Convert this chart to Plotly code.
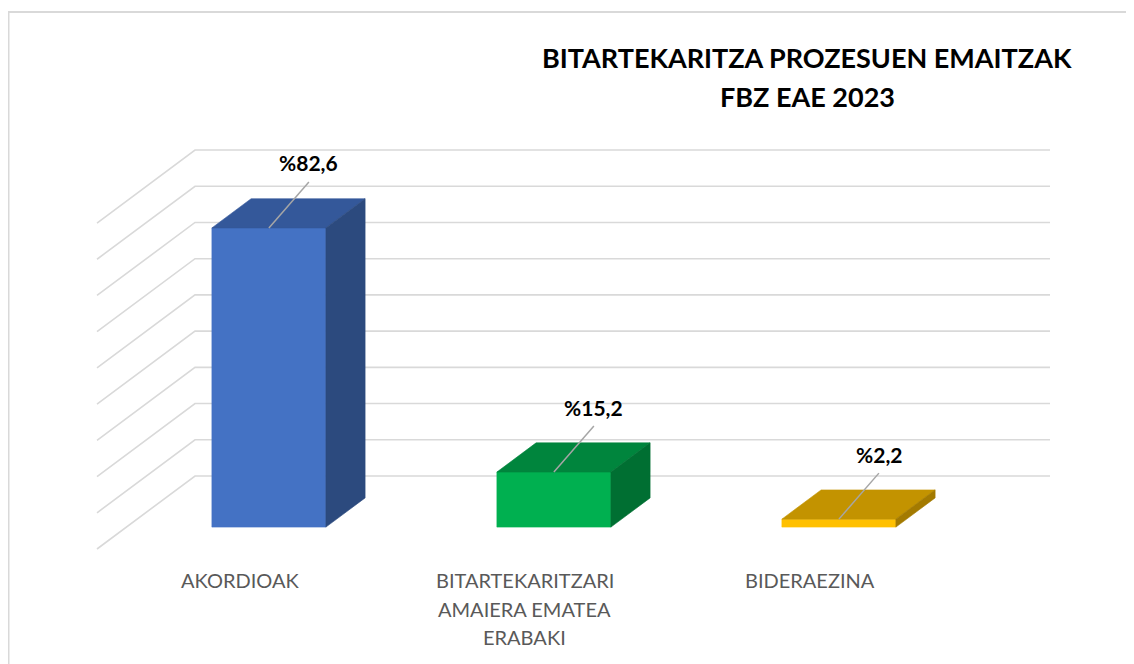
import plotly.graph_objects as go

# ---------------- data ----------------
categories = ["AKORDIOAK", "BITARTEKARITZARI<br>AMAIERA EMATEA<br>ERABAKI", "BIDERAEZINA"]
values = [82.6, 15.2, 2.2]
value_labels = ["%82,6", "%15,2", "%2,2"]
gridline_values = [0, 10, 20, 30, 40, 50, 60, 70, 80, 90]
title_lines = ["BITARTEKARITZA PROZESUEN EMAITZAK", "FBZ EAE 2023"]

front_colors = ["#4472C4", "#00B050", "#FFC000"]
top_colors = ["#34589A", "#00853D", "#C39300"]
side_colors = ["#2C4A7E", "#006F32", "#A37A00"]

# ---------------- layout / 3D projection ----------------
PAGE_W, PAGE_H = 1134, 664
OFF = 8                      # default body margin of the html page
W, H = PAGE_W - OFF, PAGE_H - OFF
PX_PER_UNIT = 3.622          # pixels per value unit
BACK_ZERO_PX = 476           # page y of value 0 on back wall
DX = 98.0                    # depth offset in x (x units == page px)
DY = 73.0 / PX_PER_UNIT      # depth offset in value units
FLOOR_LEFT, FLOOR_RIGHT = 97.0, 952.0
slot = (FLOOR_RIGHT - FLOOR_LEFT) / len(categories)
BAR_W = 0.4 * slot
D_FRONT, D_BACK = 0.3, 0.7
LABEL_LINE_PX = 28.5

y_top = (BACK_ZERO_PX - OFF) / PX_PER_UNIT
y_bottom = -(PAGE_H - BACK_ZERO_PX) / PX_PER_UNIT


def proj(u, v, d):
    return u + d * DX, v + (d - 1.0) * DY


def poly(points, color):
    pts = list(points) + [points[0]]
    return go.Scatter(x=[p[0] for p in pts], y=[p[1] for p in pts], mode="lines",
                      fill="toself", fillcolor=color,
                      line=dict(color=color, width=0.6),
                      hoverinfo="skip", showlegend=False)


fig = go.Figure()

# gridlines (side wall diagonals + back wall horizontals)
gx, gy = [], []
for v in gridline_values:
    for (u, d) in [(FLOOR_LEFT, 0.0), (FLOOR_LEFT, 1.0), (FLOOR_RIGHT, 1.0)]:
        px, py = proj(u, v, d)
        gx.append(px)
        gy.append(py)
    gx.append(None)
    gy.append(None)
fig.add_trace(go.Scatter(x=gx, y=gy, mode="lines",
                         line=dict(color="#D9D9D9", width=1.6),
                         hoverinfo="skip", showlegend=False))

# bars
centers = [FLOOR_LEFT + slot * (i + 0.5) for i in range(len(categories))]
for i, v in enumerate(values):
    uc = centers[i]
    ul, ur = uc - BAR_W / 2, uc + BAR_W / 2
    # front face
    fig.add_trace(poly([proj(ul, 0, D_FRONT), proj(ur, 0, D_FRONT),
                        proj(ur, v, D_FRONT), proj(ul, v, D_FRONT)], front_colors[i]))
    # top face
    fig.add_trace(poly([proj(ul, v, D_FRONT), proj(ur, v, D_FRONT),
                        proj(ur, v, D_BACK), proj(ul, v, D_BACK)], top_colors[i]))
    # side face
    fig.add_trace(poly([proj(ur, v, D_FRONT), proj(ur, v, D_BACK),
                        proj(ur, 0, D_BACK), proj(ur, 0, D_FRONT)], side_colors[i]))
    # leader line + data label
    tx, ty = proj(uc, v, D_FRONT)
    fig.add_trace(go.Scatter(x=[tx, tx + 40], y=[ty, ty + 46 / PX_PER_UNIT], mode="lines",
                             line=dict(color="#A6A6A6", width=1.5),
                             hoverinfo="skip", showlegend=False))
    fig.add_annotation(x=tx, y=ty, xshift=40, yshift=65, text="<b>%s</b>" % value_labels[i],
                       showarrow=False, xanchor="center", yanchor="middle",
                       font=dict(family="Lato", size=21, color="#000000"))
    # category label (one annotation per text line)
    lx, ly = proj(uc, 0, 0.0)
    for k, line in enumerate(categories[i].split("<br>")):
        fig.add_annotation(x=lx, y=ly, yshift=-31 - LABEL_LINE_PX * k, text=line,
                           showarrow=False, xanchor="center", yanchor="middle",
                           font=dict(family="Lato", size=20, color="#595959"))

# title
for k, line in enumerate(title_lines):
    fig.add_annotation(x=(807 - OFF) / W, y=1 - (58 + 38.5 * k - OFF) / H,
                       xref="paper", yref="paper",
                       text="<b>%s</b>" % line, showarrow=False,
                       xanchor="center", yanchor="middle",
                       font=dict(family="Lato", size=27, color="#000000"))

# chart border
fig.add_shape(type="rect", xref="paper", yref="paper",
              x0=0.5 / W, x1=1.02, y0=-0.05, y1=1 - (12 - OFF) / H,
              line=dict(color="#D9D9D9", width=2), fillcolor="rgba(0,0,0,0)", layer="above")

fig.update_layout(
    width=W, height=H,
    margin=dict(l=0, r=0, t=0, b=0),
    paper_bgcolor="#FFFFFF", plot_bgcolor="#FFFFFF",
    xaxis=dict(range=[OFF, PAGE_W], visible=False, fixedrange=True),
    yaxis=dict(range=[y_bottom, y_top], visible=False, fixedrange=True),
    showlegend=False,
)

fig.write_html("out.html")
